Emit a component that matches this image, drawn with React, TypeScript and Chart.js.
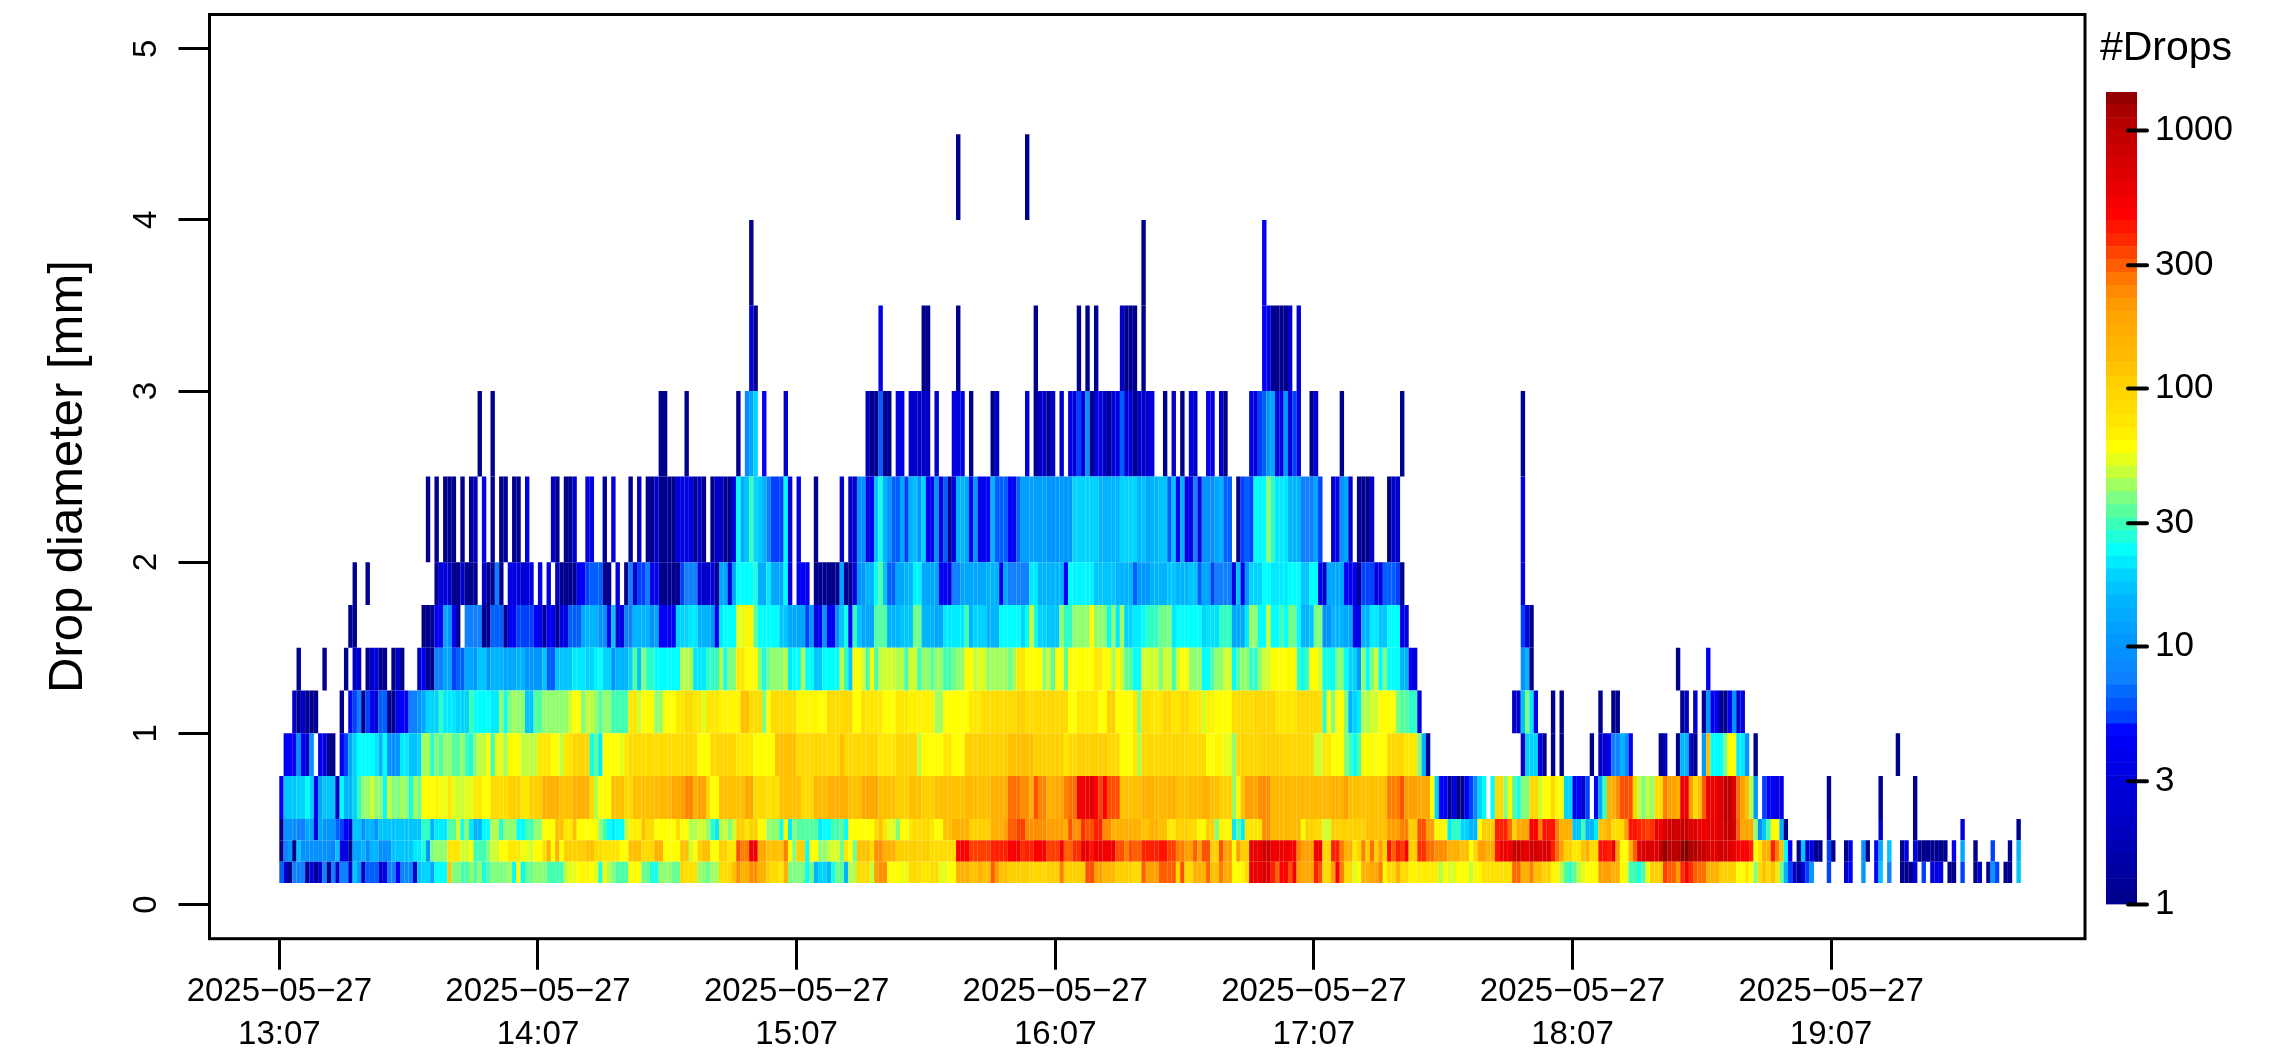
import React, { useEffect, useRef } from "react";
import { Chart, registerables } from "chart.js";

Chart.register(...registerables);
Chart.defaults.font.family = "'Liberation Sans', Arial, sans-serif";
Chart.defaults.color = "#000";

const DATE_LABEL = "2025−05−27";
const TIME_LABELS = ["13:07", "14:07", "15:07", "16:07", "17:07", "18:07", "19:07"];
const X_TICKS = [0, 60, 120, 180, 240, 300, 360];
const Y_TICKS = [0, 1, 2, 3, 4, 5];
const COLOR_TICKS = [1, 3, 10, 30, 100, 300, 1000];
const BIN_EDGES = [0.125, 0.25, 0.375, 0.5, 0.75, 1, 1.25, 1.5, 1.75, 2, 2.5, 3, 3.5, 4, 4.5];

// Drop counts per minute for each diameter bin, as [count, minutes, count, minutes, ...],
// one list for each 100 minutes. 0 means no drops.
const bin0 = [
  [6,1,2,1,1,1,7,3,1,1,3,1,1,1,3,1,7,1,1,1,7,1,2,1,7,2,2,1,16,1,10,1,2,1,6,3,2,1,3,1,7,2,4,1,7,1,8,2,2,1,16,1,18,2,12,1,22,3,110,1,36,2,30,2,38,1,30,1,38,1,24,1,30,1,36,4,40,1,22,1,55,1,22,1,33,2,38,1,37,2,30,1,29,3,44,1,50,2,55,1,60,1,58,1,55,1,50,1,25,1,52,1,42,1,36,1,30,3,55,3,33,2,24,2,38,3,33,2,90,1,75,3,38,2,33,1],
  [40,2,80,3,115,1,215,1,150,2,215,2,150,2,100,1,80,2,68,1,150,1,36,4,22,1,34,1,14,1,18,2,14,1,24,1,34,1,32,1,14,1,42,2,80,3,44,1,190,1,215,2,55,3,52,2,80,3,68,2,80,2,50,2,55,2,150,3,115,2,150,1,115,2,280,1,190,1,115,2,100,5,90,4,100,3,240,1,100,5,300,2,190,2,130,3,100,4,80,2,300,1],
  [280,1,190,3,280,4,85,1,300,1,85,2,150,3,270,1,115,2,240,1,170,2,55,1,55,1,60,1,85,1,550,3,650,2,370,1,270,1,450,2,300,1,500,1,190,1,170,3,370,1,300,1,85,2,190,1,450,1,240,1,85,2,48,1,55,1,150,2,170,2,240,1,58,1,85,2,150,1,85,2,60,2,65,5,42,1,55,1,48,2,55,3,44,1,58,2,75,7,270,2,150,2,240,1,115,2,95,2,58,2,42,1,30,1,27,2],
  [32,1,44,1,50,1,55,3,190,3,150,2,55,1,52,1,29,2,24,1,31,1,52,1,100,3,325,1,280,2,190,1,345,1,450,1,345,1,280,1,260,2,150,3,100,4,55,2,68,1,55,1,36,1,80,1,115,1,80,1,115,1,68,1,34,1,14,1,5,1,2,1,1,1,3,1,5,1,10,1,0,3,5,1,0,3,2,1,4,1,0,2,10,1,0,2,4,1,16,1,0,1,7,1,0,2,1,3,3,1,0,1,5,1,0,1,3,3,0,1,1,2,0,1,5,1,0,2,1,1,2,1,0,1,1,1,10,1,5,1,0,1,1,2,0,1,16,1],
];
const bin1 = [
  [1,1,7,1,10,1,1,1,16,1,9,7,7,1,16,1,3,2,1,1,12,2,14,1,8,1,14,2,9,3,16,5,20,2,25,1,10,1,36,1,38,3,70,3,46,2,55,1,29,3,36,1,46,2,55,2,68,3,52,2,46,1,55,2,75,1,150,1,55,1,150,1,55,1,100,5,115,2,80,2,72,4,55,2,115,3,85,3,150,2,55,4,115,2,46,1,55,1,100,1,115,2],
  [55,2,100,2,68,2,300,1,240,2,520,2,170,2,115,4,240,1,55,1,36,1,100,2,22,1,55,2,38,2,44,1,48,2,34,1,68,1,55,1,34,1,115,3,80,1,215,2,150,3,100,8,80,6,450,3,325,5,370,4,480,3,345,1,370,2,480,3,325,3,480,1,280,2,345,2,570,2,400,1,540,2,520,3,300,2,240,1,300,1,280,2],
  [370,4,400,2,325,2,240,2,190,2,280,1,190,1,300,2,100,2,300,1,190,2,55,1,190,1,100,2,570,3,750,2,540,4,480,2,240,1,190,3,520,2,90,2,370,2,240,1,150,2,68,1,90,1,240,1,100,1,260,1,100,1,190,1,100,1,400,1,280,1,370,1,325,1,480,1,100,2,345,2,260,2,215,3,150,3,115,2,55,1,90,1,190,2,150,2,400,1,540,3,830,2,620,1,570,1,750,2,620,1,680,2,370,1,260,1,190,1,100,2],
  [68,2,115,1,150,1,80,2,400,2,370,1,520,1,190,1,55,2,150,1,280,1,570,1,680,3,620,1,930,1,1250,1,1000,3,1250,1,1400,1,1080,2,830,2,680,1,620,2,750,1,680,2,540,1,450,3,370,1,55,1,68,1,150,2,370,1,240,1,115,1,22,1,4,1,0,1,1,1,16,1,2,1,3,1,1,2,0,1,5,1,1,1,0,2,1,1,3,1,0,2,9,1,1,1,0,1,4,1,12,1,0,1,16,1,0,2,1,1,3,1,0,1,4,1,1,7,0,1,4,1,0,1,12,1,0,2,1,1,0,3,5,1,0,3,1,1,0,1,14,1],
];
const bin2 = [
  [1,1,9,3,7,2,12,2,3,1,12,1,10,3,6,1,5,1,4,1,2,1,16,2,9,1,14,2,9,1,16,10,27,2,14,1,20,3,31,2,46,1,24,1,38,1,20,1,14,2,22,2,42,2,25,1,38,3,22,2,29,2,38,2,55,3,115,2,68,2,115,1,55,5,38,1,29,1,22,1,20,1,22,2,42,1,62,3,115,1,80,2,55,5,80,1,55,2,42,2,46,2,38,1],
  [27,1,20,1,42,1,46,1,36,1,46,1,100,2,68,1,100,2,55,2,38,3,24,1,55,1,20,1,36,1,31,5,20,1,22,2,29,2,32,1,22,1,55,6,80,1,115,1,68,1,50,2,36,1,55,2,68,1,80,4,68,1,55,2,115,2,150,4,100,5,150,3,190,1,280,2,325,2,215,5,190,4,150,1,300,1,215,2,345,1,300,2,370,2,215,2,150,7],
  [115,2,150,2,115,2,68,2,100,3,85,2,58,2,100,2,36,1,60,3,20,1,32,1,20,1,70,4,215,2,130,7,55,1,100,2,85,2,46,2,100,8,115,5,190,3,240,2,100,2,300,2,190,2,58,3,20,1,27,2,18,2,14,2,55,1,100,3,370,3,260,1,100,1,170,3,450,2,240,1,400,3,240,1,150,2],
  [16,2,29,1,14,2,20,1,115,2,150,1,80,3,190,1,400,2,370,1,345,1,325,1,345,1,520,2,680,1,750,3,830,2,620,1,680,1,540,2,570,3,620,1,830,2,680,1,280,1,170,3,38,1,9,1,16,1,29,1,55,2,14,1,1,1,0,9,2,1,0,11,2,1,0,7,1,1,0,10,3,1,0,12,1,1],
];
const bin3 = [
  [4,1,16,3,18,2,22,1,18,1,4,1,12,1,16,3,2,1,22,1,14,2,18,1,27,1,38,2,46,1,38,2,22,1,46,1,36,2,40,1,38,1,24,1,40,1,34,1,55,3,60,1,52,2,68,1,50,1,46,2,50,2,68,2,55,2,80,4,100,3,68,2,100,3,150,4,115,3,150,4,85,1,42,1,55,3,115,3,85,2,115,5,130,4,170,2,190,1,230,2,150,1,190,2,85,1],
  [55,2,115,6,170,2,85,3,75,3,115,5,85,3,130,3,150,5,115,3,170,4,115,4,100,3,115,3,100,3,115,7,130,3,115,3,150,4,260,3,215,2,150,1,300,1,230,2,150,2,170,2,240,1,260,2,520,3,620,1,450,1,325,1,450,1,300,3,115,5],
  [150,3,130,3,150,2,115,3,130,3,150,2,115,2,100,3,38,1,55,1,115,1,190,2,170,1,215,3,130,14,150,3,190,1,115,9,240,3,300,1,190,3,170,3,55,1,18,1,4,2,1,1,3,1,1,2,4,1,5,1,8,1,18,1,22,1,0,1,22,1,85,2,36,1,55,1,31,1,24,1,36,2,85,2,46,1,55,2,85,1,55,2,18,2],
  [4,2,2,1,5,1,0,1,4,1,12,1,29,1,150,2,215,1,300,3,80,1,44,1,36,1,44,1,38,1,80,2,240,1,190,2,150,1,520,2,190,1,80,1,115,1,280,1,540,3,680,1,930,2,620,1,260,1,190,1,115,1,42,1,10,1,0,1,5,1,4,2,3,2,0,10,1,1,0,11,1,1,0,7,1,1],
];
const bin4 = [
  [0,1,4,3,9,1,4,1,2,1,9,1,0,1,4,1,3,1,1,2,0,1,4,1,5,1,12,1,18,1,22,4,20,1,14,1,22,1,9,3,20,2,16,2,18,1,40,2,27,1,36,1,31,1,38,2,31,2,38,1,29,1,24,1,38,1,44,2,55,1,29,1,50,2,40,1,55,3,44,4,68,3,55,2,44,1,68,2,90,4,24,1,32,1,20,1,55,4,50,1,68,1,80,10,80,2,85,4,55,2,55,1],
  [90,6,68,4,55,5,115,5,85,4,90,3,80,3,115,1,85,3,90,5,68,4,90,5,44,1,55,5,68,2,55,3,100,10,115,6,100,7,68,1,85,2,100,7,85,3,55,3,68,1,42,1],
  [85,5,90,5,85,5,55,2,60,2,50,2,38,1,90,6,100,5,90,5,90,2,46,2,68,2,55,3,36,1,29,1,22,1,31,1,55,6,85,4,68,3,36,1,14,1,1,1,0,21,2,1,18,3,3,1,1,1,0,1,1,1,0,1,1,1,0,2],
  [0,4,1,1,0,1,2,2,4,1,7,2,14,1,9,1,4,1,0,6,1,1,2,1,0,2,1,1,14,2,2,1,1,1,0,1,10,1,115,1,22,3,36,1,55,2,20,2,9,1,0,1,1,1,0,32,1,1],
];
const bin5 = [
  [0,3,2,1,1,1,2,1,1,3,0,5,1,1,0,1,4,1,5,1,7,1,1,1,5,1,4,1,2,1,6,2,1,2,4,3,7,2,10,1,12,1,18,3,27,1,20,3,18,3,29,1,22,4,20,2,38,1,24,1,36,1,40,1,38,2,16,2,31,2,38,6,46,1,55,2,36,1,44,2,38,1,31,1,38,2,29,4,68,2,46,1,55,3,38,2,55,3,68,2,80,2,68,2,48,1,68,1],
  [68,2,60,5,115,2,80,3,36,1,55,1,80,6,60,5,55,2,80,4,90,2,55,2,80,1,68,4,55,3,68,3,62,6,40,2,55,6,68,3,80,8,100,2,80,2,85,8,55,2,68,5,55,2,100,2,55,4,68,1,36,1],
  [80,2,70,3,90,2,70,2,90,2,68,3,46,1,62,2,55,4,80,5,90,5,70,5,85,5,80,1,27,1,55,1,36,1,55,2,36,1,14,1,18,1,20,1,42,2,46,2,55,4,36,1,31,2,27,2,3,1,0,21,2,2,16,1,36,1,20,1,3,1,0,3,1,1,0,1,1,1,0,2],
  [0,6,1,1,0,2,1,2,0,14,1,1,2,1,0,1,2,1,0,1,1,1,10,1,4,2,1,2,4,1,9,1,2,1,3,1],
];
const bin6 = [
  [0,4,1,1,0,5,1,1,0,4,1,1,0,1,2,2,0,1,1,1,2,1,3,1,1,2,0,1,1,1,2,1,1,1,0,3,2,1,4,1,1,2,7,2,12,2,5,1,6,2,12,2,10,1,16,2,10,1,14,3,12,3,14,2,10,4,16,1,6,2,16,4,20,3,18,2,21,1,22,1,18,2,10,1,14,3,18,1,32,1,16,1,36,1,27,2,22,6,42,3,20,3,27,1],
  [27,2,42,1,24,1,36,2,68,2,55,3,36,1,24,1,34,1,38,3,42,1,20,1,22,2,42,1,22,2,16,2,22,4,44,1,27,1,16,1,55,2,46,1,29,1,55,1,29,1,44,1,46,3,42,2,29,1,46,2,29,1,38,2,32,1,38,2,29,2,34,1,38,2,55,2,44,1,48,2,38,1,40,4,34,1,40,1,68,2,55,4,38,1,44,1,32,1,55,2,32,1,55,6,68,2,55,2,40,1,55,1,46,1,32,2,22,2],
  [46,4,36,1,46,2,29,1,46,1,55,2,38,3,22,2,31,1,38,2,46,2,22,1,31,1,38,2,27,2,38,1,46,2,55,4,58,2,29,1,22,1,29,1,55,2,46,1,24,2,22,1,36,2,22,1,18,2,10,1,38,1,22,1,36,1,46,1,22,1,36,1,22,3,14,2,4,1,3,1,0,24,9,1,14,1,1,1],
  [0,24,1,1,0,6,4,1],
];
const bin7 = [
  [0,16,1,2,0,15,1,3,4,2,12,1,10,1,4,1,1,1,0,1,7,4,1,2,6,3,1,1,4,2,5,4,4,2,1,1,4,2,1,1,3,2,6,3,12,1,14,3,9,2,4,1,16,1,3,2,7,2,14,4,9,1,12,1,4,4,18,3,20,2,14,3],
  [10,1,4,1,20,1,22,3,50,2,60,2,32,1,22,5,16,2,12,4,5,1,10,1,3,1,4,1,9,1,4,2,9,1,16,1,24,1,4,1,27,1,16,1,12,3,31,3,14,3,16,3,34,2,14,3,12,2,20,5,29,1,14,1,18,3,14,3,22,5,18,1,22,1,46,1,24,1,18,2,16,3,38,1,27,2,38,4,55,1,38,3,22,1,38,1,20,1,40,1,18,2,20,2],
  [22,1,27,3,34,2,36,1,20,1,22,6,18,1,19,3,27,3,12,3,20,1,38,2,22,2,46,1,22,2,29,1,22,1,34,2,22,1,14,2,16,1,36,2,9,2,14,3,12,2,4,1,3,1,14,2,20,2,16,2,22,3,3,2,0,26,5,1,3,1,1,1],
  [0,104],
];
const bin8 = [
  [0,17,1,1,0,2,1,1,0,15,1,1,3,2,2,1,1,2,2,1,1,3,0,1,2,1,1,2,7,1,1,1,0,1,3,3,2,1,3,2,0,1,3,1,0,1,3,1,0,1,2,1,1,4,4,2,5,1,6,3,1,2,0,1,3,1,0,1,1,1,7,1,2,1,5,2,7,1,3,1,4,1,1,5,5,1,7,3,3,1,2,2],
  [3,1,1,1,12,2,3,1,12,1,22,4,25,1,13,2,20,1,12,3,22,1,3,1,0,1,4,3,0,1,1,6,12,1,1,2,3,1,10,2,14,2,22,1,31,1,16,1,6,2,12,2,14,2,21,2,12,4,4,2,3,1,7,2,12,6,14,3,4,1,12,1,7,5,20,2,14,6,4,1,22,1,21,5,16,5,14,4,6,1,10,1],
  [10,2,14,4,16,2,14,3,16,2,6,1,12,2,5,1,7,4,3,1,16,1,4,1,10,1,18,3,22,2,20,4,22,3,16,2,22,2,3,1,2,1,12,4,4,3,1,1,5,3,3,2,6,3,5,1,1,1,0,27,3,1],
  [0,104],
];
const bin9 = [
  [0,34,1,1,0,1,1,1,0,1,1,3,0,1,1,1,0,1,1,1,2,1,0,1,3,1,0,1,1,1,0,1,1,2,0,1,1,2,0,1,3,1,0,5,2,1,1,1,0,1,1,2,2,1,0,2,3,2,0,2,1,1,0,1,3,1,0,3,1,1,0,1,2,1,0,1,1,2,2,1,1,4,3,4,1,1,2,1,1,1,0,1],
  [1,1,2,2,1,2,3,1,22,1,13,1,16,1,28,1,18,1,17,1,14,1,7,1,5,3,22,1,3,1,0,1,3,1,0,3,1,1,0,5,2,1,0,1,2,2,9,2,3,1,4,1,16,1,24,1,14,1,10,1,6,2,12,1,5,1,14,1,16,1,10,1,18,1,4,2,10,1,3,1,6,1,1,1,3,1,14,2,12,1,4,1,10,1,3,1,4,2,14,1,6,3,4,2,6,1,11,6,10,6,18,6,14,5,18,4,14,1],
  [16,1,12,1,14,2,16,2,6,1,16,1,4,1,14,1,3,2,7,1,3,1,9,3,12,1,14,1,6,2,0,1,1,1,5,1,6,1,5,1,22,3,38,1,27,1,20,3,14,3,7,3,12,1,5,1,0,2,3,2,9,1,12,1,2,1,0,1,1,3,2,1,0,3,1,1,2,2,0,28,3,1],
  [0,104],
];
const bin10 = [
  [0,46,1,1,0,2,1,1,0,38,1,2,0,4,1,1,0,5],
  [0,6,1,1,0,1,8,1,12,1,18,1,0,1,4,1,0,4,2,1,0,18,2,1,1,2,6,1,1,2,0,1,3,2,0,1,2,5,0,1,2,1,0,3,3,3,0,1,1,1,0,4,1,1,2,1,0,6,3,1,0,1,1,1,2,2,1,1,2,1,0,1,2,1,0,1,3,2,5,1,3,1,9,1,1,1,3,2,2,1,1,1,3,2,6,1,3,2,1,1,2,1],
  [2,2,3,1,0,2,1,1,0,1,2,1,0,1,1,1,0,1,3,1,2,1,0,2,3,2,0,1,2,1,1,1,0,5,3,2,5,1,6,1,10,1,12,1,3,2,10,1,3,1,5,1,3,1,0,2,1,1,3,1,0,5,1,1,0,13,1,1,0,27,1,1],
  [0,104],
];
const bin11 = [
  [0,100],
  [0,9,3,1,1,1,0,28,3,1,0,9,1,2,0,6,1,1,0,17,1,1,0,9,1,1,0,1,1,1,0,1,1,1,0,5,2,1,1,3,0,1],
  [1,1,0,27,4,2,1,4,2,1,0,1,2,1],
  [0,104],
];
const bin12 = [[0,100],[0,9,1,1,0,90],[1,1,0,27,4,1],[0,104]];
const bin13 = [[0,100],[0,57,1,1,0,15,1,1,0,26],[0,100],[0,104]];
const BINS = [bin0, bin1, bin2, bin3, bin4, bin5, bin6, bin7, bin8, bin9, bin10, bin11, bin12, bin13];

// Levels of the colour key.
const COLORBAR_LEVELS = [1,1.12,1.26,1.41,1.58,1.78,2,2.24,2.51,2.82,3.16,3.55,3.98,4.47,5.01,5.62,6.31,7.08,7.94,8.91,10,11.2,12.6,14.1,15.8,17.8,20,22.4,25.1,28.2,31.6,35.5,39.8,44.7,50.1,56.2,63.1,70.8,79.4,89.1,100,112,126,141,158,178,200,224,251,282,316,355,398,447,501,562,631,708,794,891,1000,1122,1259,1409];

const COLOR_STOPS: [number, string][] = [
  [1, "#00008F"], [2, "#0000C8"], [3, "#0000E0"], [4.4, "#0000FF"], [5, "#0040FF"], [6, "#0060FF"],
  [7, "#1080FF"], [10, "#0098FF"], [14, "#00B4FF"], [18, "#00D4FF"], [22, "#00FFFF"], [29, "#40FFB0"],
  [36, "#80FF80"], [46, "#D0FF30"], [55, "#FFFF00"], [68, "#FFE800"], [80, "#FFDC00"], [100, "#FFD000"], [115, "#FFC000"],
  [150, "#FFB000"], [190, "#FFA000"], [240, "#FF8000"], [300, "#FF5000"], [370, "#FF2000"], [450, "#FF0000"],
  [520, "#F00000"], [620, "#E00000"], [750, "#D00000"], [930, "#C00000"], [1080, "#B00000"], [1400, "#800000"],
];

function hexToRgb(h: string) {
  return [parseInt(h.slice(1, 3), 16), parseInt(h.slice(3, 5), 16), parseInt(h.slice(5, 7), 16)];
}

function colorFor(v: number) {
  if (v <= COLOR_STOPS[0][0]) return COLOR_STOPS[0][1];
  for (let i = 1; i < COLOR_STOPS.length; i++) {
    if (v <= COLOR_STOPS[i][0]) {
      const [a, ca] = COLOR_STOPS[i - 1];
      const [b, cb] = COLOR_STOPS[i];
      const f = Math.log(v / a) / Math.log(b / a);
      const ra = hexToRgb(ca);
      const rb = hexToRgb(cb);
      const m = ra.map((c, k) => Math.round(c + (rb[k] - c) * f));
      return `rgb(${m[0]},${m[1]},${m[2]})`;
    }
  }
  return COLOR_STOPS[COLOR_STOPS.length - 1][1];
}

// Expand the [count, minutes] lists into one value per minute.
function expand(blocks: number[][]) {
  const out: number[] = [];
  blocks.forEach((block, b) => {
    const start = b * 100;
    const limit = b === 3 ? 104 : 100;
    let k = 0;
    let last = 0;
    for (let i = 0; i + 1 < block.length; i += 2) {
      last = block[i];
      for (let j = 0; j < block[i + 1] && k < limit; j++) out[start + k++] = last;
    }
    if (b < 3 && k >= 94) while (k < limit) out[start + k++] = last;
    while (k < limit) out[start + k++] = 0;
  });
  return out;
}

const boxPlugin = {
  id: "box",
  afterDatasetsDraw(chart: any) {
    const { ctx, chartArea: a } = chart;
    ctx.save();
    ctx.strokeStyle = "#000";
    ctx.lineWidth = 3;
    ctx.strokeRect(a.left, a.top, a.right - a.left, a.bottom - a.top);
    ctx.restore();
  },
};

const keyPlugin = {
  id: "key",
  afterDatasetsDraw(chart: any) {
    const { ctx, chartArea: a, scales } = chart;
    ctx.save();
    ctx.strokeStyle = "#000";
    ctx.lineWidth = 4;
    ctx.lineCap = "round";
    COLOR_TICKS.forEach((v) => {
      const y = scales.y.getPixelForValue(v);
      ctx.beginPath();
      ctx.moveTo(a.right - 9, y);
      ctx.lineTo(a.right + 10, y);
      ctx.stroke();
    });
    ctx.fillStyle = "#000";
    ctx.font = "41px 'Liberation Sans'";
    ctx.textAlign = "center";
    ctx.textBaseline = "middle";
    ctx.fillText("#Drops", 126, 49);
    ctx.restore();
  },
};

export default function App() {
  const mainRef = useRef<HTMLCanvasElement>(null);
  const keyRef = useRef<HTMLCanvasElement>(null);

  useEffect(() => {
    const datasets = BINS.map((blocks, b) => {
      const values = expand(blocks);
      const data: any[] = [];
      const colors: string[] = [];
      values.forEach((v, minute) => {
        if (v > 0) {
          data.push({ x: minute + 0.5, y: [BIN_EDGES[b], BIN_EDGES[b + 1]] });
          colors.push(colorFor(v));
        }
      });
      return {
        data,
        backgroundColor: colors,
        borderWidth: 0,
        barThickness: 4.4,
        inflateAmount: 0,
        grouped: false,
      };
    });

    const main = new Chart(mainRef.current as HTMLCanvasElement, {
      type: "bar",
      data: { datasets } as any,
      plugins: [boxPlugin],
      options: {
        animation: false,
        responsive: false,
        devicePixelRatio: 1,
        layout: { padding: { left: 0, top: 14.5, right: 194, bottom: 0 } },
        plugins: { legend: { display: false }, tooltip: { enabled: false } },
        scales: {
          x: {
            type: "linear",
            min: -16.2,
            max: 418.9,
            offset: false,
            border: { display: false },
            grid: { offset: false, drawOnChartArea: false, tickLength: 31, tickColor: "#000", tickWidth: 3 },
            afterBuildTicks: (s: any) => { s.ticks = X_TICKS.map((value) => ({ value })); },
            afterFit: (s: any) => { s.height = 111.3; s.paddingLeft = 0; s.paddingRight = 0; },
            ticks: {
              autoSkip: false,
              maxRotation: 0,
              padding: 1,
              color: "#000",
              font: { size: 33, lineHeight: 1.3 },
              callback: (v: any) => [DATE_LABEL, TIME_LABELS[X_TICKS.indexOf(v)]],
            },
          },
          y: {
            min: -0.2,
            max: 5.2,
            border: { display: false },
            grid: { drawOnChartArea: false, tickLength: 31, tickColor: "#000", tickWidth: 3 },
            afterBuildTicks: (s: any) => { s.ticks = Y_TICKS.map((value) => ({ value })); },
            afterFit: (s: any) => { s.width = 209.5; s.paddingTop = 0; s.paddingBottom = 0; },
            ticks: {
              autoSkip: false,
              minRotation: 90,
              maxRotation: 90,
              crossAlign: "center",
              padding: 22,
              color: "#000",
              font: { size: 33 },
              callback: (v: any) => String(v),
            },
            title: {
              display: true,
              text: "Drop diameter [mm]",
              color: "#000",
              font: { size: 49 },
              padding: { top: 39, bottom: 0 },
            },
          },
        },
      } as any,
    });

    const key = new Chart(keyRef.current as HTMLCanvasElement, {
      type: "bar",
      data: {
        labels: ["key"],
        datasets: COLORBAR_LEVELS.slice(0, -1).map((lo, i) => ({
          data: [[lo, COLORBAR_LEVELS[i + 1]]],
          backgroundColor: colorFor(lo),
          borderWidth: 0,
          inflateAmount: 0.3,
          grouped: false,
          barPercentage: 1,
          categoryPercentage: 1,
        })),
      } as any,
      plugins: [keyPlugin],
      options: {
        animation: false,
        responsive: false,
        devicePixelRatio: 1,
        layout: { padding: { left: 66, top: 92, right: 0, bottom: 145.6 } },
        plugins: { legend: { display: false }, tooltip: { enabled: false } },
        scales: {
          x: { display: false },
          y: {
            type: "logarithmic",
            position: "right",
            min: 1,
            max: 1409,
            border: { display: false },
            grid: { display: false, drawTicks: false },
            afterBuildTicks: (s: any) => { s.ticks = COLOR_TICKS.map((value) => ({ value })); },
            afterFit: (s: any) => { s.width = 142; s.paddingTop = 0; s.paddingBottom = 0; },
            ticks: {
              autoSkip: false,
              padding: 18,
              color: "#000",
              font: { size: 35 },
              callback: (v: any) => String(v),
            },
          },
        },
      } as any,
    });

    return () => {
      main.destroy();
      key.destroy();
    };
  }, []);

  return (
    <div style={{ position: "fixed", left: 0, top: 0, width: 2279, height: 1050, background: "#fff" }}>
      <canvas ref={mainRef} width={2279} height={1050} style={{ position: "absolute", left: 0, top: 0, display: "block" }} />
      <canvas ref={keyRef} width={239} height={1050} style={{ position: "absolute", left: 2040, top: 0, display: "block" }} />
    </div>
  );
}
